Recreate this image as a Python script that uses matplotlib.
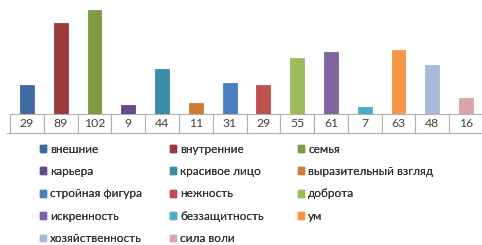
import matplotlib
matplotlib.use("Agg")
import matplotlib.pyplot as plt
from matplotlib.patches import Patch
from matplotlib.lines import Line2D

categories = ["внешние", "внутренние", "семья", "карьера", "красивое лицо",
              "выразительный взгляд", "стройная фигура", "нежность", "доброта",
              "искренность", "беззащитность", "ум", "хозяйственность", "сила воли"]
values = [29, 89, 102, 9, 44, 11, 31, 29, 55, 61, 7, 63, 48, 16]
colors = ["#3F6A9F", "#9E3A39", "#7D9A45", "#634A88", "#3A8DA6", "#D27B34",
          "#4A7EC0", "#C0504D", "#9BBB59", "#8064A2", "#4BACC6", "#F79646",
          "#A7B9DB", "#DAA5A6"]

plt.rcParams['font.family'] = ['Lato', 'DejaVu Sans']

W, H = 482, 245
fig = plt.figure(figsize=(W / 100, H / 100), dpi=100)

def fx(px):
    return px / W

def fy(py):
    return 1 - py / H

left_px, right_px = 10, 483
base_px = 114.3
ax = fig.add_axes([fx(left_px), fy(base_px), fx(right_px - left_px), base_px / H])
x = list(range(len(values)))
bars = ax.bar(x, values, width=0.41, color=colors, edgecolor=colors, linewidth=0.6)
ax.set_xlim(-0.5, len(values) - 0.5)
ax.set_ylim(0, base_px / 1.025)
ax.axis("off")

# data table below bars
tab_h = (133 - base_px) / base_px
tbl = ax.table(cellText=[[str(v) for v in values]], cellLoc="center",
               bbox=[0, -tab_h, 1, tab_h])
tbl.auto_set_font_size(False)
tbl.set_fontsize(8.8)
for (r, c), cell in tbl.get_celld().items():
    cell.set_edgecolor("#B0B0B0")
    cell.set_linewidth(0.8)
    cell.get_text().set_color("#404040")

fig.add_artist(Line2D([fx(7), fx(483)], [fy(133), fy(133)], color="#B0B0B0", lw=0.8))

# legend: three columns, row-major order
col_x = [40, 170, 298]
fs = 8.5
for c in range(3):
    idx = list(range(c, len(categories), 3))
    handles = [Patch(facecolor=colors[i], edgecolor=colors[i]) for i in idx]
    labels = [categories[i] for i in idx]
    leg = fig.legend(handles, labels, loc="upper left",
                     bbox_to_anchor=(fx(col_x[c]), fy(143.5)),
                     frameon=False, fontsize=fs, handlelength=0.5, handleheight=0.5,
                     handletextpad=0.35, labelspacing=0.97, borderpad=0, borderaxespad=0,
                     labelcolor="#333333")
    fig.add_artist(leg)

fig.savefig("out.png", dpi=100)
